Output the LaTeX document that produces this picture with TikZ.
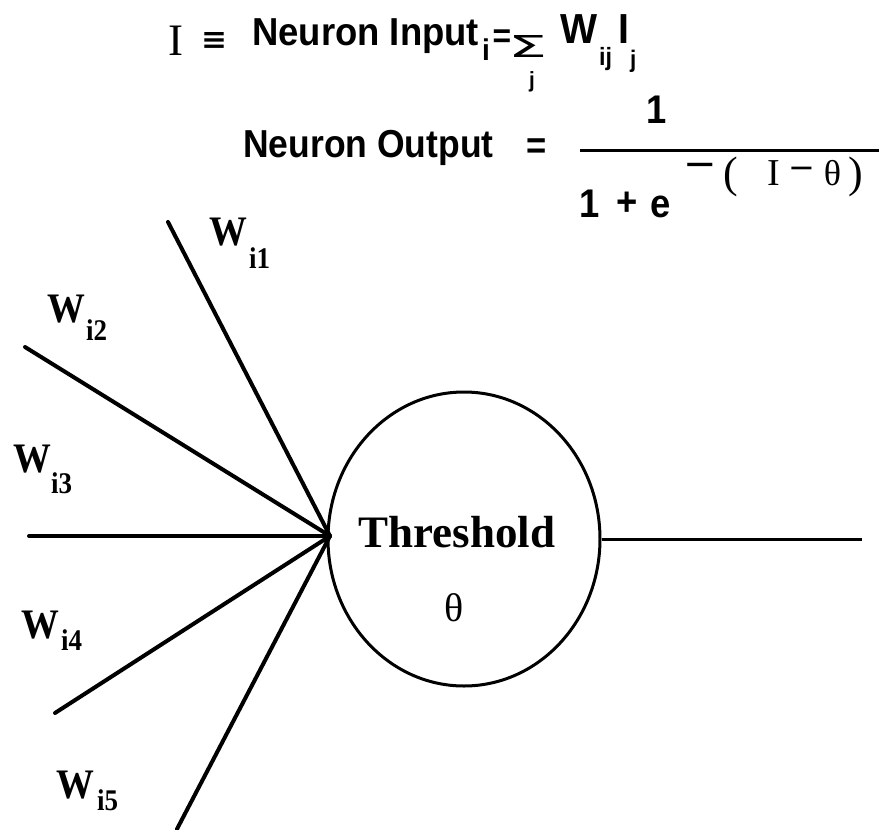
\documentclass[tikz,border=0pt]{standalone}
\usepackage{fontspec}
\usepackage{graphicx}
\setmainfont{Liberation Serif}
\newfontfamily\hfont{Liberation Sans}[FakeStretch=0.91]
\newfontfamily\hfontw{Liberation Sans}[FakeStretch=0.935]
\newfontfamily\wfont{Liberation Serif}[FakeStretch=0.9]
\newfontfamily\dvfont{DejaVu Sans}
\usetikzlibrary{shapes.geometric}
\newcommand\fsz[1]{\fontsize{#1}{#1}\selectfont}
\begin{document}
\begin{tikzpicture}[x=1pt,y=-1pt,
  conn/.style={line width=4pt, line cap=round},
  wlab/.style={anchor=base west, inner sep=0pt, font=\wfont\bfseries\fsz{42}},
  wsub/.style={anchor=base west, inner sep=0pt, font=\wfont\bfseries\fsz{30}},
  hb/.style={inner sep=0pt, font=\hfont\bfseries\fsz{#1}},
  hw/.style={inner sep=0pt, font=\hfontw\bfseries\fsz{#1}},
  sr/.style={inner sep=0pt, font=\rmfamily\fsz{#1}},
  dm/.style={inner sep=0pt, font=\dvfont\fsz{#1}},
]
\useasboundingbox (0,0) rectangle (879,830);

% ---- formula row 1
\node[sr=45, anchor=base] (bigI) at (175.5,55) {I};
\node[inner sep=0pt] (equiv) at (214,41) {\resizebox{26pt}{17pt}{\dvfont\bfseries ≡}};
\node[hw=39, anchor=base west] (nin) at (252,45) {Neuron Input};
\node[hw=30, anchor=base west] (nini) at (482,60) {i};
\node[hw=34, anchor=center] (eq1) at (502,39) {=};
\node[inner sep=0pt] (sigma) at (528.5,46) {\resizebox{39pt}{22pt}{\dvfont Σ}};
\node[hw=22, anchor=base] (sigj) at (532,87) {j};
\node[hw=42, anchor=base west] (wij) at (560,43) {W};
\node[hw=25, anchor=base west] (wijs) at (599,65) {ij};
\node[hw=42, anchor=base west] (ij) at (618,43) {I};
\node[hw=24, anchor=base west] (ijs) at (630,67) {j};

% ---- formula row 2
\node[hb=39, anchor=base west] (nout) at (243,157) {Neuron Output};
\node[hb=38, anchor=center] (eq2) at (537,149) {=};
\coordinate (fl) at (580,150);
\coordinate (fr) at (879,150);
\draw[line width=3pt] (fl) -- (fr);
\node[hb=40, anchor=base] (num) at (657,123) {1};
\node[hb=40, anchor=base] (den1) at (590,217) {1};
\node[hb=40, anchor=base] (denp) at (627.5,215) {+};
\node[hb=40, anchor=base] (dene) at (661,217) {e};
\node[dm=40, anchor=center] (sm1) at (700,170) {−};
\node[sr=44, anchor=base] (slp) at (731,187) {(};
\node[sr=38, anchor=base] (sI) at (773.5,185) {I};
\node[dm=32, anchor=center] (sm2) at (802,173) {−};
\node[sr=36, anchor=base] (sth) at (832.5,185) {θ};
\node[sr=44, anchor=base] (srp) at (856,187) {)};

% ---- neuron
\node[draw, ellipse, line width=3pt, minimum width=272pt, minimum height=294pt, inner sep=0pt] (neuron) at (464,539) {};
\node[anchor=base, inner sep=0pt, font=\rmfamily\bfseries\fsz{45}] (thr) at (457,547) {Threshold};
\node[sr=40, anchor=base] (theta) at (454,621) {θ};

% ---- inputs
\coordinate (hub) at (330,536);
\coordinate (e1) at (168,222);
\coordinate (e2) at (25,347);
\coordinate (e3) at (29,536);
\coordinate (e4) at (55,713);
\coordinate (e5) at (177,829);
\coordinate (outend) at (862,539);
\draw[conn] (e1) -- (hub);
\draw[conn] (e2) -- (hub);
\draw[conn] (e3) -- (hub);
\draw[conn] (e4) -- (hub);
\draw[conn] (e5) -- (hub);
\draw[line width=3pt] (neuron.east) -- (outend);

% ---- weight labels
\node[wlab] (w1) at (209,245) {W};
\node[wsub] (w1s) at (249,268) {i1};
\node[wlab] (w2) at (47,322) {W};
\node[wsub] (w2s) at (86,340) {i2};
\node[wlab] (w3) at (13,472) {W};
\node[wsub] (w3s) at (51,493) {i3};
\node[wlab] (w4) at (21,638) {W};
\node[wsub] (w4s) at (61,650) {i4};
\node[wlab] (w5) at (56,798) {W};
\node[wsub] (w5s) at (97,810) {i5};
\end{tikzpicture}
\end{document}
